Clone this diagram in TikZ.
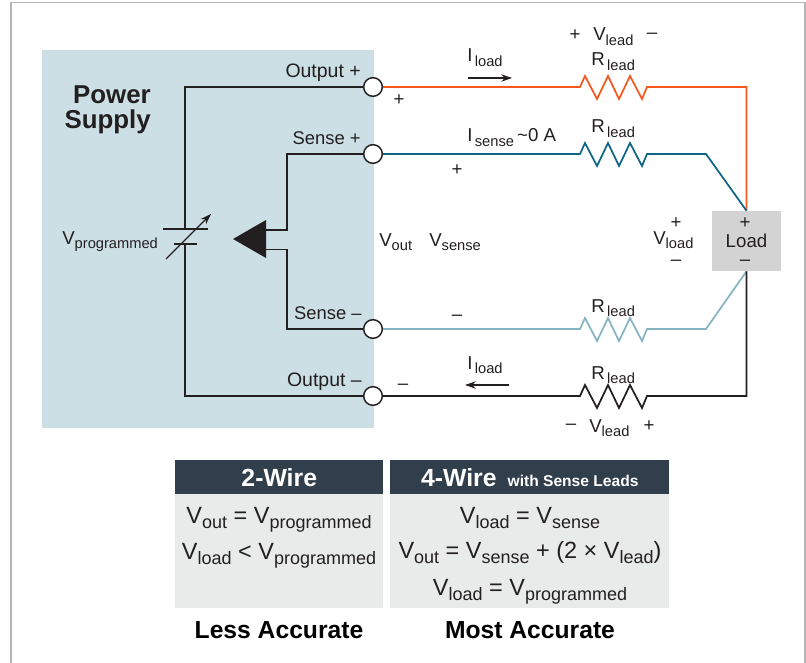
\documentclass[tikz,border=0pt]{standalone}
\usepackage{fontspec}
\setmainfont{Liberation Sans}
\usetikzlibrary{arrows.meta}
\tikzset{>={Stealth[length=8pt,width=5.5pt]}}
\definecolor{mysupply}{RGB}{204, 223, 229}
\definecolor{myorange}{RGB}{244, 88, 31}
\definecolor{myteal}{RGB}{15, 102, 132}
\definecolor{mypale}{RGB}{134, 180, 195}
\definecolor{myink}{RGB}{35, 31, 32}
\definecolor{myhead}{RGB}{49, 62, 75}
\definecolor{mybody}{RGB}{233, 235, 234}
\definecolor{myload}{RGB}{211, 211, 211}
\definecolor{myframe}{RGB}{181, 181, 181}
\newcommand{\vsub}[2]{#1\raisebox{-3.6pt}{\fontsize{11}{11}\selectfont #2}}
\newcommand{\tsub}[2]{#1\raisebox{-4.4pt}{\fontsize{13.5}{13.5}\selectfont #2}}
\newcommand{\zig}{-- ++(5,-11) -- ++(12,23) -- ++(11,-23) -- ++(11,23) -- ++(11,-23) -- ++(12,23) -- ++(5,-12)}
\tikzset{
  lbl/.style={font=\fontsize{14}{16}\selectfont, text=myink, inner sep=0pt, anchor=base west},
  lble/.style={lbl, anchor=base east},
  sgn/.style={font=\fontsize{14}{16}\selectfont, text=myink, inner sep=0pt},
  term/.style={circle, draw=myink, fill=white, line width=1.1pt, minimum size=14pt, inner sep=0pt},
  wire/.style={line width=1.3pt, line join=miter},
  headbox/.style={fill=myhead, text=white, font=\bfseries\fontsize{18.6}{20}\selectfont, inner sep=0pt, minimum height=25.5pt, anchor=north west},
  bodybox/.style={fill=mybody, inner sep=0pt, anchor=north west},
  eqn/.style={font=\fontsize{17.6}{20}\selectfont, text=myink, inner sep=0pt, anchor=base},
  verdict/.style={font=\bfseries\fontsize{18.5}{20}\selectfont, text=black, inner sep=0pt, anchor=base}
}
\begin{document}
\begin{tikzpicture}[x=0.75pt, y=-0.75pt]
\useasboundingbox (0,0) rectangle (806,663);
\draw[myframe, line width=1pt] (11,663) -- (11,2.5) -- (805,2.5) -- (805,663);
\fill[mysupply] (42,50) rectangle (374,428);

\node[term] (outp) at (373,87) {};
\node[term] (senp) at (373,154) {};
\node[term] (senm) at (373,329) {};
\node[term] (outm) at (373,396) {};
\node[fill=myload, minimum width=51.75pt, minimum height=45pt, inner sep=0pt, font=\fontsize{14}{16}\selectfont, text=myink] (load) at (746.5,241) {Load};

% inside the supply
\coordinate (plateA) at (185,229);
\coordinate (plateB) at (185,244);
\draw[myink, wire] (outp) -- (185,87) -- (plateA);
\draw[myink, wire] (outm) -- (185,396) -- (plateB);
\draw[myink, wire] (163,229) -- (208,229);
\draw[myink, wire] (174,244) -- (197,244);
\draw[->, myink, line width=0.9pt] (166,259) -- (211,214);
\fill[myink] (233,239) -- (266,220) -- (266,258) -- cycle;
\draw[myink, wire] (senp) -- (287,154) -- (287,230) -- (266,230);
\draw[myink, wire] (senm) -- (287,329) -- (287,249.5) -- (266,249.5);

% leads
\draw[myorange, wire] (outp) -- (580,87) \zig -- (746.5,87) -- (load.north);
\draw[myteal, wire] (senp) -- (580,154) \zig -- (706,154) -- (load.north);
\draw[mypale, wire] (senm) -- (580,329) \zig -- (706,329) -- (load.south);
\draw[myink, wire] (outm) -- (580,396) \zig -- (746.5,396) -- (load.south);
\draw[->, myink, line width=0.8pt] (468,78) -- (512,78);
\draw[->, myink, line width=0.8pt] (509,385) -- (465,385);

% labels
\node[lble, font=\fontsize{14.6}{16}\selectfont] (outplbl) at (361,78) {Output +};
\node[lble, font=\fontsize{13.8}{16}\selectfont] (senplbl) at (361,145) {Sense +};
\node[lble, font=\fontsize{13.8}{16}\selectfont] (senmlbl) at (362,319) {Sense –};
\node[lble, font=\fontsize{14.6}{16}\selectfont] (outmlbl) at (362,386) {Output –};
\node[anchor=east, align=right, inner sep=0pt, text=myink, font=\bfseries\fontsize{19.4}{18.75}\selectfont] (supply) at (151,110) {Power\\Supply};
\node[lbl] (vprog) at (62,244) {\vsub{V}{programmed}};
\node[lbl] (vout) at (379,246) {\vsub{V}{out}};
\node[lbl] (vsense) at (429,246) {\vsub{V}{sense}};
\node[lbl] (iloadA) at (467,62) {\vsub{I}{\,load}};
\node[lbl] (isense) at (467,142) {\vsub{I}{\,sense}\,\textasciitilde 0 A};
\node[lbl] (iloadB) at (467,369) {\vsub{I}{\,load}};
\node[lbl] (rleadA) at (591,66) {\vsub{R}{\,lead}};
\node[lbl] (rleadB) at (591,133) {\vsub{R}{\,lead}};
\node[lbl] (rleadC) at (591,312) {\vsub{R}{\,lead}};
\node[lbl] (rleadD) at (591,379) {\vsub{R}{\,lead}};
\node[lbl] (vleadA) at (593,41) {\vsub{V}{lead}};
\node[lbl] (vleadB) at (589,432) {\vsub{V}{lead}};
\node[lbl] (vload) at (653,244) {\vsub{V}{load}};
\node[sgn] (signA) at (575,35) {+};
\node[sgn] (signB) at (652,36) {–};
\node[sgn] (signC) at (399,100) {+};
\node[sgn] (signD) at (457,170) {+};
\node[sgn] (signE) at (457,318) {–};
\node[sgn] (signF) at (403,387) {–};
\node[sgn] (signG) at (571,427) {–};
\node[sgn] (signH) at (649,426) {+};
\node[sgn] (signI) at (676,223) {+};
\node[sgn] (signJ) at (676,263) {–};
\node[sgn] (signK) at (745,223) {+};
\node[sgn] (signL) at (745,263) {–};

% tables
\node[headbox, minimum width=156pt] (headA) at (175,460) {2-Wire};
\node[headbox, minimum width=209.25pt] (headB) at (390,460) {4-Wire\, \fontsize{11.7}{14}\selectfont with Sense Leads};
\node[bodybox, minimum width=156pt, minimum height=85.5pt] (bodyA) at (175,494) {};
\node[bodybox, minimum width=209.25pt, minimum height=85.5pt] (bodyB) at (390,494) {};
\node[eqn] (eqA) at (279,523) {\tsub{V}{out} = \tsub{V}{programmed}};
\node[eqn] (eqB) at (279,559) {\tsub{V}{load} < \tsub{V}{programmed}};
\node[eqn] (eqC) at (530,523) {\tsub{V}{load} = \tsub{V}{sense}};
\node[eqn] (eqD) at (530,558) {\tsub{V}{out} = \tsub{V}{sense} + (2 × \tsub{V}{lead})};
\node[eqn] (eqE) at (530,595) {\tsub{V}{load} = \tsub{V}{programmed}};
\node[verdict] (lessacc) at (279,638) {Less Accurate};
\node[verdict] (mostacc) at (530,638) {Most Accurate};
\end{tikzpicture}
\end{document}
